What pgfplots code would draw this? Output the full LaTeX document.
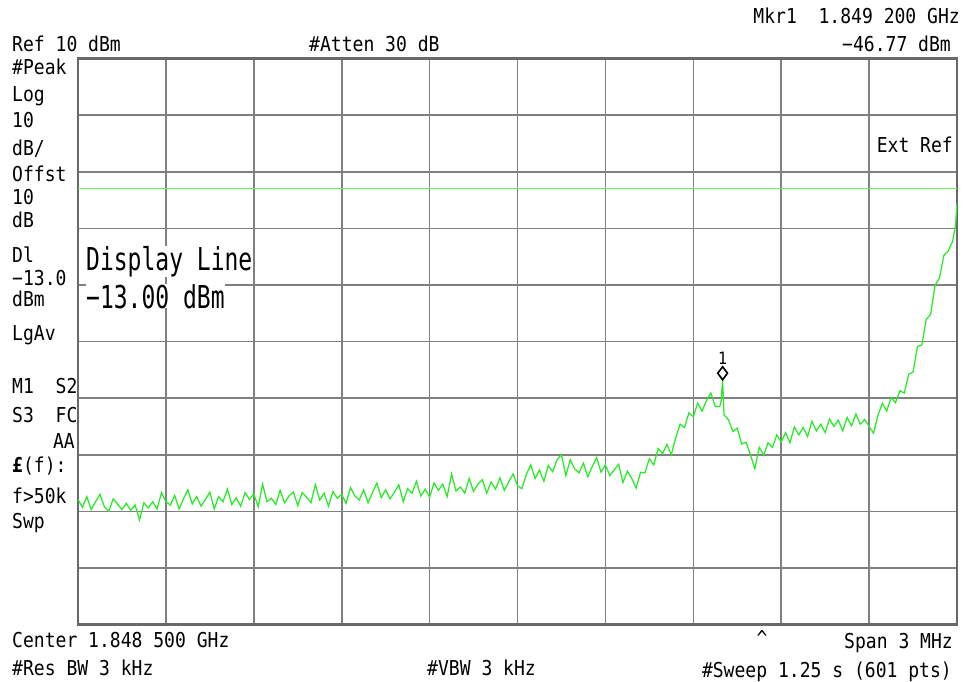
\documentclass[border=0pt]{standalone}
\usepackage{pgfplots}
\pgfplotsset{compat=1.18}
\usepackage{fontspec}
\newfontfamily\saf[FakeStretch=0.88]{DejaVu Sans Mono}
\newfontfamily\bigf[FakeStretch=0.73]{DejaVu Sans Mono}
\definecolor{gridgray}{RGB}{128,128,128}
\definecolor{framegray}{RGB}{105,105,105}
\definecolor{trace}{RGB}{40,235,40}
\definecolor{dline}{RGB}{90,250,90}
\pgfplotstableread{
i v
0 -67.9
3 -69.3
6 -67.4
9 -69.7
12 -68.3
15 -67.0
18 -69.2
21 -70.0
24 -67.8
27 -68.7
30 -69.7
33 -68.6
36 -69.8
39 -68.9
42 -71.5
45 -68.5
48 -69.4
51 -68.3
54 -69.6
57 -66.7
60 -68.3
63 -68.9
66 -67.2
69 -69.6
72 -67.8
75 -66.2
78 -68.7
81 -67.4
84 -69.1
87 -67.9
90 -66.6
93 -69.6
96 -67.4
99 -68.3
102 -66.1
105 -68.8
108 -67.6
111 -69.1
114 -66.7
117 -67.9
120 -66.9
123 -69.2
126 -65.2
129 -68.3
132 -67.7
135 -68.8
138 -66.3
141 -68.5
144 -67.3
147 -66.6
150 -69.0
153 -66.7
156 -67.5
159 -68.5
162 -65.3
165 -68.0
168 -66.8
171 -69.1
174 -66.5
177 -67.7
180 -67.0
183 -68.6
186 -65.8
189 -67.3
192 -68.0
195 -66.2
198 -68.5
201 -66.7
204 -65.0
207 -67.6
210 -66.2
213 -67.8
216 -66.6
219 -65.3
222 -68.3
225 -66.0
228 -66.8
231 -64.7
234 -67.3
237 -66.1
240 -67.5
243 -65.0
246 -66.3
249 -65.2
252 -67.4
255 -63.4
258 -66.4
261 -65.7
264 -66.8
267 -64.2
270 -66.5
273 -65.2
276 -64.4
279 -66.8
282 -64.8
285 -66.1
288 -64.1
291 -66.3
294 -64.8
297 -63.4
300 -65.5
303 -66.0
306 -63.5
309 -61.8
312 -64.2
315 -62.7
318 -64.7
321 -61.9
324 -63.0
327 -60.9
330 -60.0
333 -63.7
336 -60.9
339 -62.5
342 -63.2
345 -61.5
348 -63.9
351 -62.1
354 -60.5
357 -63.1
360 -61.8
363 -63.7
366 -62.7
369 -61.7
372 -64.9
375 -62.9
378 -64.2
381 -65.9
384 -63.1
387 -63.2
390 -60.7
393 -61.8
396 -58.9
399 -59.8
402 -58.2
405 -60.0
408 -57.0
411 -54.6
414 -55.2
417 -52.6
420 -53.3
423 -50.9
426 -52.3
429 -50.4
432 -49.1
435 -51.5
438 -51.5
439 -50.5
440 -46.77
441 -53.0
444 -53.8
447 -55.9
450 -55.3
453 -58.1
456 -57.8
459 -60.0
462 -62.5
465 -58.7
468 -60.1
471 -57.9
474 -58.7
477 -56.5
480 -57.8
483 -56.1
486 -57.9
489 -55.1
492 -56.5
495 -55.2
498 -56.8
501 -54.1
504 -55.8
507 -54.6
510 -56.1
513 -53.7
516 -55.0
519 -53.9
522 -55.8
525 -53.4
528 -54.9
531 -52.8
534 -54.6
537 -53.8
540 -55.0
543 -56.2
546 -53.1
549 -50.9
552 -52.3
555 -49.9
558 -50.8
561 -48.7
564 -49.1
567 -45.8
570 -45.4
573 -40.9
576 -40.6
579 -36.1
582 -35.2
585 -30.1
588 -28.8
591 -24.8
594 -24.0
597 -22.3
599 -19.5
600 -15.5
}\tracedata
\begin{document}
\begin{tikzpicture}[x=1pt,y=1pt]
\path[use as bounding box] (0,0) rectangle (965,681);
\begin{axis}[at={(78pt,56.5pt)}, anchor=south west,
  width=879pt, height=566pt, scale only axis,
  xmin=0, xmax=600, ymin=-90, ymax=10,
  xtick={0,60,...,600}, ytick={-90,-80,...,10},
  xticklabels={}, yticklabels={},
  major tick length=0pt,
  grid=major,
  major grid style={draw=gridgray, line width=1.6pt},
  axis line style={draw=framegray, line width=2.8pt},
  clip=true]
\addplot[dline, line width=1.5pt] coordinates {(0,-13) (600,-13)};
\addplot[trace, line width=1.25pt] table[x=i, y=v] {\tracedata};
\addplot[only marks, mark=diamond*, mark size=6.5pt, mark options={fill=white, draw=black, line width=1.6pt}]
  coordinates {(440,-45.6)} node[above=5pt, font=\saf\fontsize{17}{17}\selectfont, black] {1};
\end{axis}
\begin{scope}[every node/.style={inner sep=0pt, font=\saf\fontsize{20.5}{20.5}\selectfont}]
\node[anchor=base east] at (960,657) {Mkr1\ \ 1.849 200 GHz};
\node[anchor=base east] at (951,629) {−46.77 dBm};
\node[anchor=base west] at (12,629) {Ref 10 dBm};
\node[anchor=base west] at (309,629) {\#Atten 30 dB};
\node[anchor=base west] at (12,606) {\#Peak};
\node[anchor=base west] at (12,579) {Log};
\node[anchor=base west] at (12,553) {10};
\node[anchor=base west] at (12,525) {dB/};
\node[anchor=base west] at (12,499) {Offst};
\node[anchor=base west] at (12,476) {10};
\node[anchor=base west] at (12,453) {dB};
\node[anchor=base west] at (12,419) {Dl};
\node[anchor=base west] at (12,396) {−13.0};
\node[anchor=base west] at (12,375) {dBm};
\node[anchor=base west] at (12,341) {LgAv};
\node[anchor=base west] at (12,288) {M1\ \ S2};
\node[anchor=base west] at (12,259) {S3\ \ FC};
\node[anchor=base east] at (75,233) {AA};
\node[anchor=base west] at (12,209) {\textbf{£}(f):};
\node[anchor=base west] at (12,178) {f>50k};
\node[anchor=base west] at (12,153) {Swp};
\node[anchor=base west] at (12,34) {Center 1.848 500 GHz};
\node[anchor=base west] at (12,6) {\#Res BW 3 kHz};
\node[anchor=base west] at (427,6) {\#VBW 3 kHz};
\node[anchor=base] at (762,36) {\^{}};
\node[anchor=base east] at (953,33) {Span 3 MHz};
\node[anchor=base east] at (952,4) {\#Sweep 1.25 s (601 pts)};
\node[anchor=base east] at (953,528) {Ext Ref};
\node[anchor=base west, fill=white, font=\bigf\fontsize{31.5}{31.5}\selectfont] at (86,411) {Display Line};
\node[anchor=base west, fill=white, font=\bigf\fontsize{31.5}{31.5}\selectfont] at (86,373) {−13.00 dBm};
\end{scope}
\end{tikzpicture}
\end{document}
